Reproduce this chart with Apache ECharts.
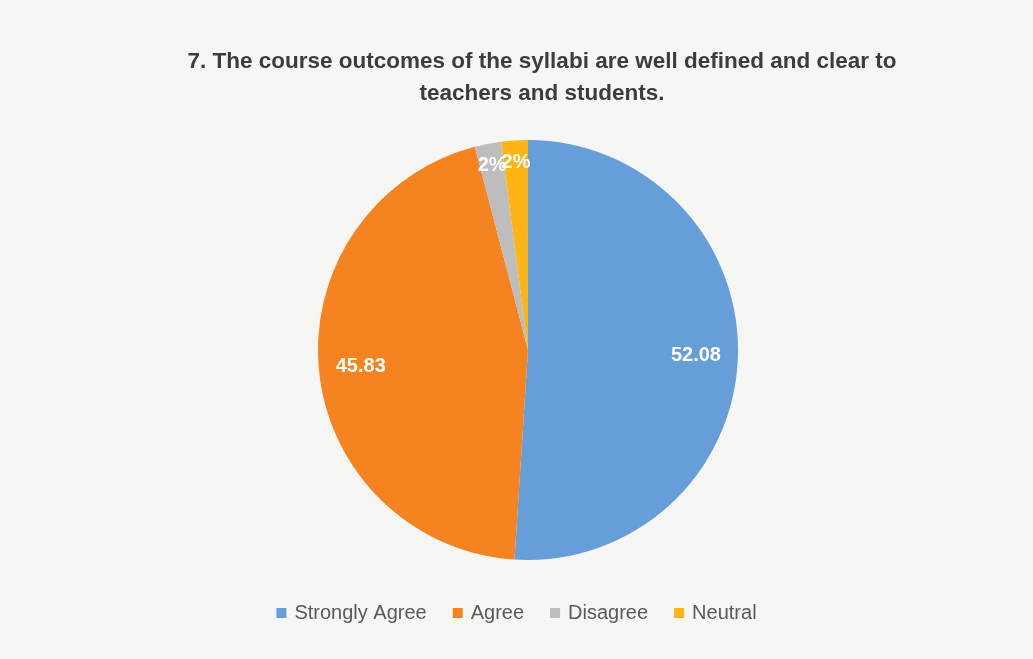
<!DOCTYPE html>
<html>
<head>
<meta charset="utf-8">
<script src="https://cdn.jsdelivr.net/npm/echarts@6/dist/echarts.min.js"></script>
<style>
  html, body { margin: 0; padding: 0; background: #f6f6f5; }
  #chart { width: 1033px; height: 659px; }
</style>
</head>
<body>
<div id="chart"></div>
<script>
const titleText = '7. The course outcomes of the syllabi are well defined and clear to\nteachers and students.';
const categories = ['Strongly Agree', 'Agree', 'Disagree', 'Neutral'];
const values = [52.08, 45.83, 2.08, 2.08];
const labelTexts = ['52.08', '45.83', '2%', '2%'];
const colors = ['#659ed8', '#f5831f', '#bdbdbd', '#fdb515'];

const chart = echarts.init(document.getElementById('chart'));
const baseData = categories.map((c, i) => ({ name: c, value: values[i] }));
const center = [528, 350];

function labelSeries(radius, showIdx) {
  return {
    type: 'pie',
    silent: true,
    center: center,
    radius: [0, radius],
    startAngle: 90,
    clockwise: true,
    legendHoverLink: false,
    avoidLabelOverlap: false,
    labelLayout: { hideOverlap: false },
    itemStyle: { color: 'rgba(0,0,0,0)', borderWidth: 0 },
    emphasis: { disabled: true },
    labelLine: { show: false },
    label: {
      show: true,
      position: 'inside',
      color: '#ffffff',
      fontFamily: 'Liberation Sans',
      fontWeight: 'bold',
      fontSize: 20,
      formatter: p => showIdx.includes(p.dataIndex) ? labelTexts[p.dataIndex] : ''
    },
    data: baseData.map(d => ({ name: d.name, value: d.value }))
  };
}

chart.setOption({
  backgroundColor: '#f6f6f5',
  animation: false,
  color: colors,
  title: {
    text: titleText,
    left: 537,
    textAlign: 'center',
    top: 41,
    textStyle: {
      fontFamily: 'Liberation Sans',
      fontWeight: 'bold',
      fontSize: 22.5,
      color: '#3c3c3c',
      lineHeight: 32
    }
  },
  legend: {
    data: categories,
    left: 'center',
    top: 598,
    icon: 'rect',
    itemWidth: 10,
    itemHeight: 10,
    itemGap: 26,
    itemStyle: { borderWidth: 0 },
    textStyle: {
      fontFamily: 'Liberation Sans',
      fontSize: 20,
      color: '#595959',
      padding: [0, 0, 0, 3]
    }
  },
  series: [
    {
      type: 'pie',
      center: center,
      radius: [0, 210],
      startAngle: 90,
      clockwise: true,
      itemStyle: { borderWidth: 0 },
      label: { show: false },
      labelLine: { show: false },
      emphasis: { scale: false },
      data: baseData
    },
    labelSeries(330, [0, 1]),
    labelSeries(370, [2, 3])
  ]
});
</script>
</body>
</html>
